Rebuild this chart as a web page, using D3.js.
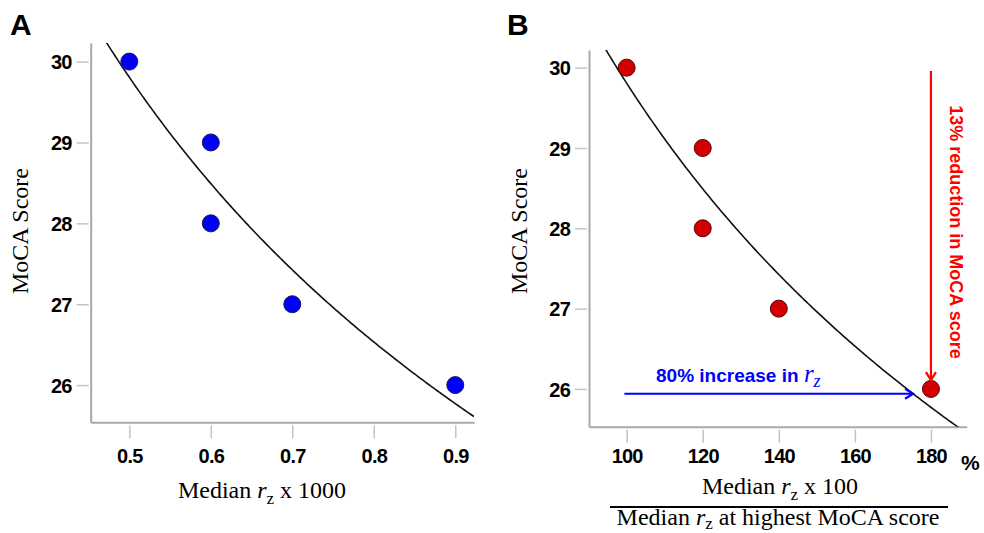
<!DOCTYPE html>
<html>
<head>
<meta charset="utf-8">
<script src="https://cdn.jsdelivr.net/npm/d3@7"></script>
<style>
  body { margin: 0; background: #fff; }
  svg { display: block; }
  .tick text { font-family: "Liberation Sans", Arial, sans-serif; font-weight: bold; font-size: 20px; fill: #000; letter-spacing: -0.8px; }
  .ttl { font-family: "Liberation Serif", "Times New Roman", serif; font-size: 24px; fill: #000; }
  .lbl { font-family: "Liberation Sans", Arial, sans-serif; font-weight: bold; font-size: 30px; }
</style>
</head>
<body>
<svg id="chart" width="984" height="533"></svg>
<script>
// panel A data: median rz x 1000 vs MoCA
var rzA = [0.5, 0.6, 0.6, 0.7, 0.9];
var mocaA = [30, 29, 28, 27, 26];
// panel B data: rz as % of rz at highest MoCA score
var rzPctB = [100, 120, 120, 140, 180];
var mocaB = [30, 29, 28, 27, 26];

var yTicks = [26, 27, 28, 29, 30];
var xTicksA = [0.5, 0.6, 0.7, 0.8, 0.9];
var xTicksB = [100, 120, 140, 160, 180];

// annotation arrows in panel B (data units)
var blueArrow = {x0: 99.4, x1: 175.3, y: 25.94};
var redArrow = {x: 180, y0: 29.96, y1: 26.11};

var svg = d3.select("#chart");

// least squares fit of y = a * x^b on log-log scale
var fitPower = function (xs, ys) {
  var lx = xs.map(Math.log), ly = ys.map(Math.log);
  var mx = d3.mean(lx), my = d3.mean(ly);
  var sxy = 0, sxx = 0;
  lx.forEach(function (v, i) {
    sxy += (v - mx) * (ly[i] - my);
    sxx += (v - mx) * (v - mx);
  });
  var b = sxy / sxx;
  return {a: Math.exp(my - b * mx), b: b};
};

var drawPanel = function (opt) {
  var x = d3.scaleLinear().domain(opt.xDomain).range(opt.xRange);
  var y = d3.scaleLinear().domain(opt.yDomain).range(opt.yRange);
  var g = svg.append("g");

  // y axis
  var ya = g.append("g")
    .attr("transform", "translate(" + opt.xRange[0] + ",0)")
    .call(d3.axisLeft(y).tickValues(yTicks).tickFormat(d3.format("d"))
      .tickSizeOuter(0).tickSizeInner(0).tickPadding(0));
  ya.select(".domain").attr("stroke", "#a8a8a8").attr("stroke-width", 2);
  ya.selectAll(".tick line").attr("x1", -14).attr("x2", -2).attr("stroke", "#c4c4c4").attr("stroke-width", 1.5);
  ya.selectAll(".tick text").attr("x", -19).attr("dy", "0.36em");

  // x axis
  var xa = g.append("g")
    .attr("transform", "translate(0," + opt.yRange[0] + ")")
    .call(d3.axisBottom(x).tickValues(opt.xTicks).tickFormat(opt.xFormat).tickSizeOuter(0).tickSizeInner(0));
  xa.select(".domain").attr("stroke", "#a8a8a8").attr("stroke-width", 2);
  xa.selectAll(".tick line").attr("y1", 3).attr("y2", 16).attr("stroke", "#c4c4c4").attr("stroke-width", 1.5);
  xa.selectAll(".tick text").attr("y", 463 - opt.yRange[0]).attr("dy", 0);

  // fitted curve, clipped to plot area
  var clipId = "clip" + opt.id;
  svg.append("clipPath").attr("id", clipId).append("rect")
    .attr("x", opt.xRange[0]).attr("y", opt.yRange[1])
    .attr("width", opt.xRange[1] - opt.xRange[0])
    .attr("height", opt.yRange[0] - opt.yRange[1]);
  var fit = fitPower(opt.xs, opt.ys);
  var curveX = d3.range(0, 201).map(function (i) {
    return opt.xDomain[0] + (opt.xDomain[1] - opt.xDomain[0]) * i / 200;
  });
  g.append("path")
    .attr("clip-path", "url(#" + clipId + ")")
    .attr("d", d3.line()
      .x(function (d) { return x(d); })
      .y(function (d) { return y(fit.a * Math.pow(d, fit.b)); })(curveX))
    .attr("fill", "none").attr("stroke", "#111").attr("stroke-width", 1.6);

  // points
  g.selectAll("circle.pt").data(opt.xs).enter().append("circle")
    .attr("class", "pt")
    .attr("cx", function (d) { return x(d); })
    .attr("cy", function (d, i) { return y(opt.ys[i]); })
    .attr("r", 8.5)
    .attr("fill", opt.fill).attr("stroke", opt.stroke).attr("stroke-width", 1);

  // axis titles
  g.append("text").attr("class", "ttl")
    .attr("transform", "translate(" + opt.yTitleX + ",231) rotate(-90)")
    .attr("text-anchor", "middle").text("MoCA Score");

  var xt = g.append("text").attr("class", "ttl")
    .attr("x", opt.xTitlePos[0]).attr("y", opt.xTitlePos[1]).attr("text-anchor", "middle");
  xt.append("tspan").text("Median ");
  xt.append("tspan").attr("font-style", "italic").text("r");
  xt.append("tspan").attr("font-size", "17px").attr("dy", 6).text("z");
  xt.append("tspan").attr("dy", -6).text(" x " + opt.mult);

  g.append("text").attr("class", "lbl")
    .attr("x", opt.labelPos[0]).attr("y", opt.labelPos[1]).text(opt.id);

  return {x: x, y: y, g: g};
};

drawPanel({
  id: "A", xs: rzA, ys: mocaA,
  xDomain: [0.4526, 0.923], xRange: [90.7, 474],
  yDomain: [25.54, 30.23], yRange: [422.3, 43],
  xTicks: xTicksA, xFormat: d3.format(".1f"),
  fill: "#0000f5", stroke: "#1a1a55",
  yTitleX: 28, xTitlePos: [262, 498], mult: "1000", labelPos: [10, 35]
});

var pB = drawPanel({
  id: "B", xs: rzPctB, ys: mocaB,
  xDomain: [90.1, 189.4], xRange: [589, 966.7],
  yDomain: [25.53, 30.22], yRange: [426.7, 50],
  xTicks: xTicksB, xFormat: d3.format("d"),
  fill: "#d20000", stroke: "#5a0000",
  yTitleX: 527, xTitlePos: [780, 494], mult: "100", labelPos: [507, 35]
});

var x = pB.x, y = pB.y, g = pB.g;

// "%" unit next to the last tick
g.append("text").attr("x", 961).attr("y", 470)
  .attr("font-family", "Liberation Sans, Arial, sans-serif").attr("font-weight", "bold")
  .attr("font-size", "21px").text("%");

// fraction bar and denominator
g.append("line").attr("x1", 610).attr("x2", 948).attr("y1", 507).attr("y2", 507)
  .attr("stroke", "#000").attr("stroke-width", 2.2);
var den = g.append("text").attr("class", "ttl").attr("x", 778).attr("y", 525).attr("text-anchor", "middle");
den.append("tspan").text("Median ");
den.append("tspan").attr("font-style", "italic").text("r");
den.append("tspan").attr("font-size", "17px").attr("dy", 4).text("z");
den.append("tspan").attr("dy", -4).text(" at highest MoCA score");

// blue arrow: increase in rz
var bx0 = x(blueArrow.x0), bx1 = x(blueArrow.x1), by = y(blueArrow.y);
g.append("line").attr("x1", bx0).attr("x2", bx1 - 1).attr("y1", by).attr("y2", by)
  .attr("stroke", "#0000ff").attr("stroke-width", 2.2);
g.append("path").attr("d", "M" + (bx1 - 8) + "," + (by - 5) + "L" + bx1 + "," + by + "L" + (bx1 - 8) + "," + (by + 5))
  .attr("fill", "none").attr("stroke", "#0000ff").attr("stroke-width", 2.2);
var bt = g.append("text").attr("x", 656).attr("y", 382).attr("fill", "#0000ff");
bt.append("tspan").attr("font-family", "Liberation Sans, Arial, sans-serif").attr("font-weight", "bold")
  .attr("font-size", "19px").text("80% increase in ");
bt.append("tspan").attr("font-family", "Liberation Serif, serif").attr("font-style", "italic")
  .attr("font-size", "25px").text("r");
bt.append("tspan").attr("font-family", "Liberation Serif, serif").attr("font-style", "italic")
  .attr("font-size", "18px").attr("dy", 5).text("z");

// red arrow: reduction in MoCA
var rx = x(redArrow.x), ry0 = y(redArrow.y0), ry1 = y(redArrow.y1);
g.append("line").attr("x1", rx).attr("x2", rx).attr("y1", ry0).attr("y2", ry1 - 1)
  .attr("stroke", "#ff0000").attr("stroke-width", 2.2);
g.append("path").attr("d", "M" + (rx - 5) + "," + (ry1 - 8) + "L" + rx + "," + ry1 + "L" + (rx + 5) + "," + (ry1 - 8))
  .attr("fill", "none").attr("stroke", "#ff0000").attr("stroke-width", 2.2);
g.append("text")
  .attr("transform", "translate(950,232) rotate(90)")
  .attr("text-anchor", "middle").attr("fill", "#ff0000")
  .attr("font-family", "Liberation Sans, Arial, sans-serif").attr("font-weight", "bold")
  .attr("font-size", "18px").text("13% reduction in MoCA score");
</script>
</body>
</html>
